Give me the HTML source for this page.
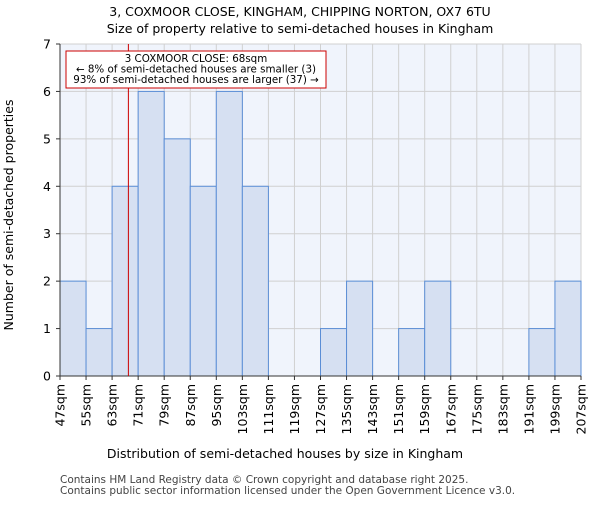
<!DOCTYPE html>
<html><head><meta charset="utf-8"><style>body{margin:0;background:#fff}text{font-family:"DejaVu Sans","Liberation Sans",sans-serif}</style></head>
<body>
<svg id="c" width="600" height="500" xmlns="http://www.w3.org/2000/svg">
<text x="300" y="16" text-anchor="middle" font-size="12.5">3, COXMOOR CLOSE, KINGHAM, CHIPPING NORTON, OX7 6TU</text>
<text x="300" y="33" text-anchor="middle" font-size="12.5">Size of property relative to semi-detached houses in Kingham</text>
<rect x="60" y="44" width="521" height="332" fill="#f0f4fc"/>
<g id="grid"></g><g id="bars"></g><g id="axes"></g>
<text x="285" y="458" text-anchor="middle" font-size="12.5">Distribution of semi-detached houses by size in Kingham</text>
<text transform="translate(13,215) rotate(-90)" text-anchor="middle" font-size="12.5">Number of semi-detached properties</text>
<text x="60" y="483" font-size="10.5" fill="#444">Contains HM Land Registry data © Crown copyright and database right 2025.</text>
<text x="60" y="494" font-size="10.5" fill="#444">Contains public sector information licensed under the Open Government Licence v3.0.</text>
</svg>
<script>
const categories=["47sqm","55sqm","63sqm","71sqm","79sqm","87sqm","95sqm","103sqm","111sqm","119sqm","127sqm","135sqm","143sqm","151sqm","159sqm","167sqm","175sqm","183sqm","191sqm","199sqm","207sqm"];
const binStarts=[47,55,63,71,79,87,95,103,111,119,127,135,143,151,159,167,175,183,191,199];
const counts=[2,1,4,6,5,4,6,4,0,0,1,2,0,1,2,0,0,0,1,2];
const yTicks=[0,1,2,3,4,5,6,7];
const markerValue=68;
const NS="http://www.w3.org/2000/svg";
const X0=60,X1=581,Y0=376,Y1=44,xmin=47,xmax=207,ymax=7;
const xs=v=>X0+(v-xmin)/(xmax-xmin)*(X1-X0);
const ys=v=>Y0-v/ymax*(Y0-Y1);
function mk(t,a,p){const e=document.createElementNS(NS,t);for(const k in a)e.setAttribute(k,a[k]);p.appendChild(e);return e;}
const grid=document.getElementById('grid'),bars=document.getElementById('bars'),axes=document.getElementById('axes');
categories.forEach((c,i)=>{const v=xmin+i*8;const x=xs(v);
const g=mk('line',{x1:x,x2:x,y1:Y1,y2:Y0,stroke:'#d0d0d0'},grid);


mk('line',{x1:x,x2:x,y1:Y0,y2:Y0+4,stroke:'#333'},axes);
const t=mk('text',{transform:`translate(${x+4.5},${Y0+8}) rotate(-90)`,'text-anchor':'end','font-size':'12.5'},axes);t.textContent=c;

});
yTicks.forEach(v=>{const y=ys(v);
const g=mk('line',{x1:X0,x2:X1,y1:y,y2:y,stroke:'#d0d0d0'},grid);


mk('line',{x1:X0-4,x2:X0,y1:y,y2:y,stroke:'#333'},axes);
const t=mk('text',{x:X0-9,y:y+4.5,'text-anchor':'end','font-size':'12.5'},axes);t.textContent=v;

});
counts.forEach((c,i)=>{if(!c)return;const x=xs(binStarts[i]),w=xs(binStarts[i]+8)-x;
const r=mk('rect',{x:x,y:ys(c),width:w,height:Y0-ys(c),fill:'#d6e0f2',stroke:'#5b8ed6','stroke-width':1},bars);

});
mk('line',{x1:X0,x2:X0,y1:Y1,y2:Y0,stroke:'#333'},axes);
mk('line',{x1:X0,x2:X1,y1:Y0,y2:Y0,stroke:'#333'},axes);
const ml=mk('line',{x1:xs(markerValue),x2:xs(markerValue),y1:Y1,y2:Y0,stroke:'#cc0000','stroke-width':1},axes);


const box=mk('rect',{x:66,y:51,width:260,height:37,fill:'#fff',stroke:'#cc0000','stroke-width':1},axes);


["3 COXMOOR CLOSE: 68sqm","← 8% of semi-detached houses are smaller (3)","93% of semi-detached houses are larger (37) →"].forEach((s,i)=>{
const t=mk('text',{x:196,y:62+i*10.5,'text-anchor':'middle','font-size':'10.3'},axes);t.textContent=s;

});
</script>
</body></html>
